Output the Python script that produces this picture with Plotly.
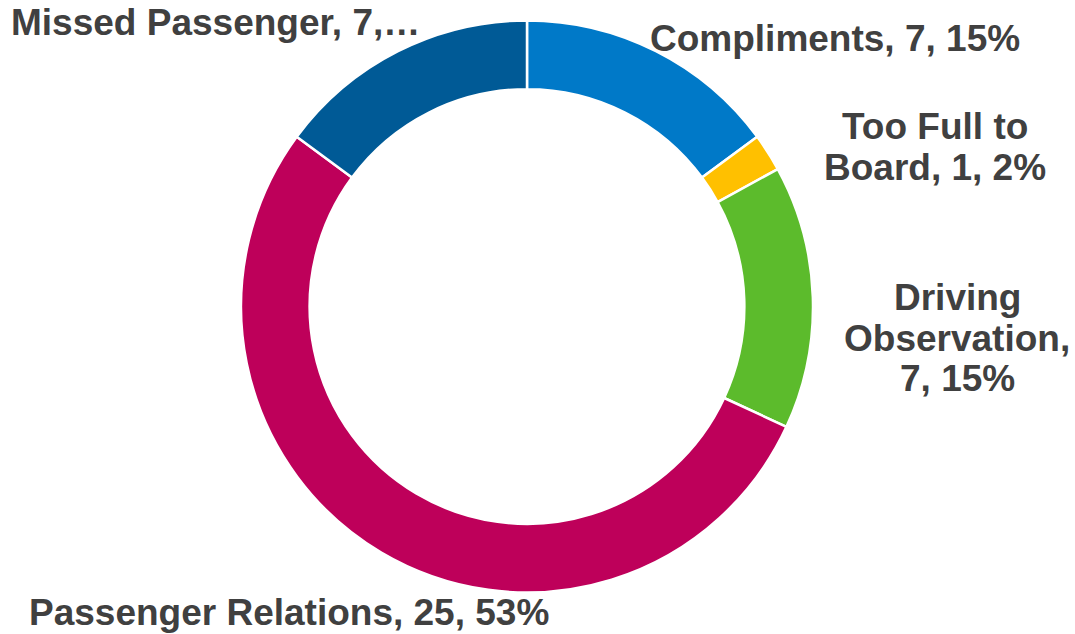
import textwrap
import plotly.graph_objects as go

# Complaint / feedback categories, clockwise from 12 o'clock
categories = ["Compliments", "Too Full to Board", "Driving Observation",
              "Passenger Relations", "Missed Passenger"]
counts = [7, 1, 7, 25, 7]
colors = ["#0079C8", "#FFC000", "#5CBB2C", "#BE005A", "#005A96"]

W, H = 1075, 634
total = sum(counts)
pcts = [round(100 * c / total) for c in counts]
labels = [f"{n}, {c}, {p}%" for n, c, p in zip(categories, counts, pcts)]

# Label placement (pixel centre of each line block) and wrapping width
label_pos = {
    "Compliments": dict(x=835, y=39, wrap=40),
    "Too Full to Board": dict(x=935, y=147, wrap=12),
    "Driving Observation": dict(x=957, y=338, wrap=12),
    "Passenger Relations": dict(x=289, y=612, wrap=40),
    "Missed Passenger": dict(x=9, y=22, wrap=40, trunc=20),
}
line_gap = 41
font = dict(family="Liberation Sans, Arial, sans-serif", size=37, color="#404040")

fig = go.Figure(go.Pie(
    labels=categories,
    values=counts,
    sort=False,
    direction="clockwise",
    rotation=0,
    hole=0.76,
    marker=dict(colors=colors, line=dict(color="white", width=2.5)),
    textinfo="none",
    hoverinfo="label+value+percent",
    showlegend=False,
    domain=dict(x=[241 / W, 813 / W], y=[(H - 306.5 - 286) / H, (H - 306.5 + 286) / H]),
))

annotations = []
for name, text in zip(categories, labels):
    pos = label_pos[name]
    if "trunc" in pos:
        text = text[:pos["trunc"]] + "…"
        annotations.append(dict(x=pos["x"] / W, y=1 - pos["y"] / H, xref="paper", yref="paper",
                                text=f"<b>{text}</b>", showarrow=False, font=font,
                                xanchor="left", yanchor="middle"))
        continue
    lines = textwrap.wrap(text, pos["wrap"])
    n = len(lines)
    for i, line in enumerate(lines):
        py = pos["y"] + (i - (n - 1) / 2) * line_gap
        annotations.append(dict(x=pos["x"] / W, y=1 - py / H, xref="paper", yref="paper",
                                text=f"<b>{line}</b>", showarrow=False, font=font,
                                xanchor="center", yanchor="middle"))

fig.update_layout(
    width=W, height=H,
    margin=dict(l=0, r=0, t=0, b=0),
    paper_bgcolor="white",
    plot_bgcolor="white",
    annotations=annotations,
)

fig.write_html("out.html")
